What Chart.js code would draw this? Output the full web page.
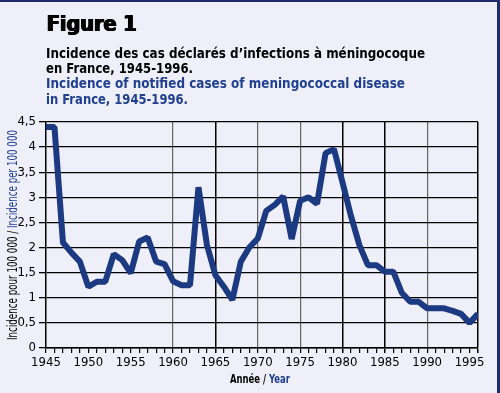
<!DOCTYPE html>
<html>
<head>
<meta charset="utf-8">
<script src="https://cdn.jsdelivr.net/npm/chart.js@4/dist/chart.umd.min.js"></script>
<style>
  html, body { margin: 0; padding: 0; background: #efeff9; }
  #wrap { width: 500px; height: 393px; position: relative; }
</style>
</head>
<body>
<div id="wrap"><canvas id="fig1"></canvas></div>
<script>
// Years 1945-1996 and incidence per 100 000
const years = [1945, 1946, 1947, 1948, 1949, 1950, 1951, 1952, 1953, 1954,
               1955, 1956, 1957, 1958, 1959, 1960, 1961, 1962, 1963, 1964,
               1965, 1966, 1967, 1968, 1969, 1970, 1971, 1972, 1973, 1974,
               1975, 1976, 1977, 1978, 1979, 1980, 1981, 1982, 1983, 1984,
               1985, 1986, 1987, 1988, 1989, 1990, 1991, 1992, 1993, 1994,
               1995, 1996];
const incidence = [4.4, 4.4, 2.1, 1.9, 1.72, 1.22, 1.32, 1.32, 1.87, 1.75,
                   1.49, 2.12, 2.2, 1.72, 1.67, 1.33, 1.25, 1.25, 3.2, 2.05,
                   1.45, 1.22, 0.96, 1.72, 2.0, 2.18, 2.73, 2.85, 3.02, 2.17,
                   2.93, 3.0, 2.87, 3.88, 3.96, 3.3, 2.63, 2.05, 1.65, 1.65,
                   1.52, 1.52, 1.1, 0.92, 0.92, 0.79, 0.79, 0.79, 0.74, 0.68,
                   0.5, 0.68];
const titleFr = ["Incidence des cas déclarés d\u2019infections à méningocoque", "en France, 1945-1996."];
const titleEn = ["Incidence of notified cases of meningococcal disease", "in France, 1945-1996."];

const navy = '#1b3a82';
const textBlue = '#1f3f8f';
const narrow = '"Liberation Sans Narrow", "DejaVu Sans Condensed", sans-serif';

// draws text squeezed/stretched to a target width, optional fake-bold passes
function fitText(ctx, txt, x, y, w, passes) {
    const m = ctx.measureText(txt).width;
    const n = passes || 1;
    ctx.save();
    ctx.translate(x, y);
    ctx.scale(w / m, 1);
    for (let i = 0; i < n; i++) {
        ctx.fillText(txt, i * 0.5, 0);
    }
    ctx.restore();
}

const decorPlugin = {
    id: 'decor',
    beforeDraw(chart) {
        const ctx = chart.ctx;
        ctx.save();
        ctx.fillStyle = '#efeff9';
        ctx.fillRect(0, 0, chart.width, chart.height);
        ctx.fillStyle = '#1e2d6b';
        ctx.fillRect(0, 0, chart.width, 2);
        ctx.fillRect(chart.width - 3, 0, 3, chart.height);
        ctx.restore();
    },
    afterDraw(chart) {
        const ctx = chart.ctx;
        ctx.save();
        ctx.textBaseline = 'alphabetic';
        ctx.textAlign = 'left';
        ctx.fillStyle = '#000';
        ctx.font = 'bold 21px "DejaVu Sans", sans-serif';
        fitText(ctx, 'Figure 1', 46, 31, 90, 4);

        ctx.font = 'bold 14px "DejaVu Sans Condensed", sans-serif';
        fitText(ctx, titleFr[0], 46, 58, 379);
        fitText(ctx, titleFr[1], 46, 72.5, 147);
        ctx.fillStyle = textBlue;
        fitText(ctx, titleEn[0], 46, 88, 359);
        fitText(ctx, titleEn[1], 46, 103.5, 142);

        // x axis title, two colours
        ctx.font = 'bold 13px ' + narrow;
        const a = 'Année / ', b = 'Year';
        const wa = ctx.measureText(a).width, wb = ctx.measureText(b).width;
        const k = 60 / (wa + wb);
        ctx.translate(230, 383);
        ctx.scale(k, 1);
        ctx.fillStyle = '#000';
        ctx.fillText(a, 0, 0);
        ctx.fillStyle = textBlue;
        ctx.fillText(b, wa, 0);
        ctx.restore();

        // y axis title, rotated
        ctx.save();
        ctx.font = '14px ' + narrow;
        const c = 'Incidence pour 100 000 / ', d = 'Incidence per 100 000';
        const wc = ctx.measureText(c).width, wd = ctx.measureText(d).width;
        const k2 = 210 / (wc + wd);
        ctx.translate(17, 340);
        ctx.rotate(-Math.PI / 2);
        ctx.scale(k2, 1);
        ctx.fillStyle = '#000';
        ctx.fillText(c, 0, 0);
        ctx.fillStyle = textBlue;
        ctx.fillText(d, wc, 0);
        ctx.restore();
    }
};

const blackYears = [1965, 1980, 1985, 1996];
const grayYears = [1960, 1970, 1975, 1990];

new Chart(document.getElementById('fig1'), {
    type: 'line',
    data: {
        datasets: [{
            data: years.map((y, i) => ({ x: y, y: incidence[i] })),
            borderColor: navy,
            borderWidth: 6,
            borderJoinStyle: 'bevel',
            pointRadius: 0,
            tension: 0,
            fill: false
        }]
    },
    options: {
        responsive: true,
        maintainAspectRatio: false,
        animation: false,
        layout: { padding: { left: 0, right: 22, top: 122, bottom: 0 } },
        plugins: { legend: { display: false }, tooltip: { enabled: false } },
        scales: {
            x: {
                type: 'linear',
                min: 1945,
                max: 1996,
                afterFit(scale) { scale.height = 45; },
                ticks: {
                    stepSize: 1,
                    autoSkip: false,
                    maxRotation: 0,
                    padding: 2,
                    color: '#000',
                    font: { family: narrow, size: 13 },
                    callback: v => (v % 5 === 0 ? String(v) : '')
                },
                grid: {
                    tickLength: 5,
                    tickColor: '#000',
                    lineWidth: ctx => (blackYears.includes(ctx.tick && ctx.tick.value) ? 1.5 : 1.2),
                    color: ctx => {
                        const v = ctx.tick && ctx.tick.value;
                        if (blackYears.includes(v)) return '#000';
                        if (grayYears.includes(v)) return '#666';
                        return 'rgba(0,0,0,0)';
                    }
                },
                border: { color: '#000', width: 1.5 }
            },
            y: {
                min: 0,
                max: 4.5,
                afterFit(scale) { scale.width = 46; },
                ticks: {
                    stepSize: 0.5,
                    padding: 3,
                    color: '#000',
                    font: { family: narrow, size: 13 },
                    callback: v => String(v).replace('.', ',')
                },
                grid: { color: '#000', lineWidth: 1.3, tickLength: 7, tickColor: '#000' },
                border: { color: '#000', width: 1.5 }
            }
        }
    },
    plugins: [decorPlugin]
});
</script>
</body>
</html>
